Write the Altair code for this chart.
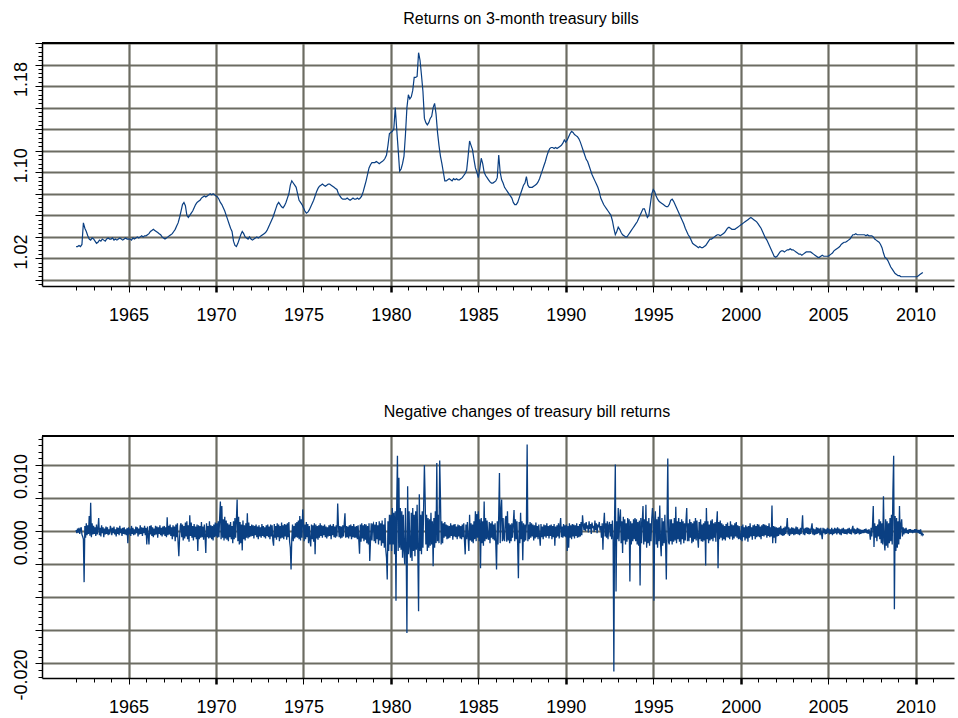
import altair as alt
import pandas as pd

START_YEAR = 1962

# Gross return on 3-month treasury bills, monthly samples,
# stored as thousandths above 1 (31 -> 1.031). One row per year.
rate_rows = [
    [31, 31, 32, 31, 33, 53, 48, 45, 41, 38, 37, 39],          # 1962
    [38, 36, 34, 35, 37, 36, 38, 37, 36, 38, 39, 38],          # 1963
    [38, 39, 37, 38, 37, 38, 39, 38, 37, 38, 39, 38],          # 1964
    [38, 38, 37, 39, 38, 39, 40, 39, 40, 41, 40, 41],          # 1965
    [41, 42, 43, 45, 46, 47, 46, 45, 44, 43, 42, 40],          # 1966
    [39, 38, 39, 40, 41, 42, 43, 45, 47, 50, 53, 58],          # 1967
    [64, 70, 72, 69, 60, 58, 60, 62, 64, 67, 70, 72],          # 1968
    [73, 74, 76, 77, 78, 77, 78, 79, 80, 79, 80, 79],          # 1969
    [78, 77, 75, 72, 70, 67, 64, 60, 56, 52, 48, 45],          # 1970
    [36, 32, 31, 34, 38, 42, 45, 43, 40, 39, 38, 40],          # 1971
    [38, 37, 38, 39, 40, 39, 40, 41, 42, 43, 44, 46],          # 1972
    [49, 52, 55, 58, 62, 66, 70, 72, 70, 68, 67, 69],          # 1973
    [72, 76, 80, 88, 92, 90, 88, 86, 80, 74, 72, 70],          # 1974
    [67, 64, 62, 63, 65, 68, 71, 74, 78, 82, 85, 87],          # 1975
    [88, 89, 88, 87, 88, 89, 89, 88, 87, 86, 85, 84],          # 1976
    [80, 78, 76, 75, 75, 75, 76, 75, 74, 75, 76, 75],          # 1977
    [75, 76, 75, 76, 78, 82, 87, 92, 98, 104, 107, 109],       # 1978
    [109, 109, 110, 109, 108, 109, 110, 111, 113, 116, 125, 136],  # 1979
    [137, 138, 140, 160, 140, 121, 101, 103, 108, 115, 135, 160],  # 1980
    [172, 168, 170, 176, 188, 188, 189, 211, 204, 190, 175, 150],  # 1981
    [146, 144, 146, 150, 152, 160, 164, 154, 137, 125, 115, 108],  # 1982
    [100, 92, 92, 93, 94, 93, 92, 94, 93, 94, 93, 93],         # 1983
    [94, 95, 97, 99, 102, 115, 129, 125, 121, 112, 104, 100],  # 1984
    [95, 103, 113, 108, 100, 97, 95, 93, 91, 90, 90, 91],      # 1985
    [92, 95, 116, 100, 93, 90, 86, 84, 82, 80, 78, 76],        # 1986
    [72, 70, 70, 72, 76, 80, 84, 88, 90, 96, 88, 86],          # 1987
    [86, 86, 87, 88, 89, 91, 94, 98, 102, 106, 110, 115],      # 1988
    [119, 122, 123, 123, 122, 123, 122, 123, 124, 125, 127, 130],  # 1989
    [128, 130, 133, 136, 138, 137, 135, 134, 133, 131, 128, 124],  # 1990
    [120, 116, 112, 110, 106, 102, 98, 95, 92, 89, 86, 82],    # 1991
    [76, 73, 70, 68, 66, 64, 62, 60, 55, 48, 42, 45],          # 1992
    [49, 47, 44, 42, 41, 40, 40, 42, 44, 46, 48, 50],          # 1993
    [52, 54, 57, 60, 63, 66, 66, 62, 58, 60, 70, 80],          # 1994
    [84, 82, 78, 75, 73, 72, 71, 70, 69, 68, 68, 70],          # 1995
    [74, 75, 73, 70, 67, 64, 61, 58, 55, 52, 48, 45],          # 1996
    [42, 40, 37, 34, 33, 32, 31, 30, 31, 30, 30, 31],          # 1997
    [32, 34, 36, 38, 38, 39, 40, 41, 42, 42, 41, 42],          # 1998
    [43, 44, 46, 48, 49, 48, 47, 47, 47, 48, 49, 50],          # 1999
    [51, 52, 53, 54, 55, 56, 57, 58, 57, 56, 55, 54],          # 2000
    [52, 50, 48, 45, 42, 39, 37, 34, 31, 28, 25, 22],          # 2001
    [21, 22, 24, 26, 27, 27, 26, 27, 28, 28, 29, 28],          # 2002
    [28, 27, 26, 25, 24, 24, 23, 24, 25, 26, 26, 26],          # 2003
    [26, 25, 24, 23, 22, 21, 21, 22, 23, 22, 22, 22],          # 2004
    [22, 23, 24, 25, 27, 28, 29, 30, 31, 33, 34, 35],          # 2005
    [35, 36, 37, 38, 40, 42, 42, 43, 42, 42, 42, 42],          # 2006
    [42, 42, 41, 42, 41, 41, 41, 40, 38, 37, 36, 35],          # 2007
    [33, 30, 25, 21, 20, 18, 15, 12, 10, 8, 6, 5],             # 2008
    [4, 4, 3, 3, 3, 3, 3, 3, 3, 3, 3, 3],                      # 2009
    [3, 3, 4, 5, 6, 7],                                        # 2010
]

# Negative changes of the return, 24 samples per year, in units of 1e-4.
change_rows = [
    [2, -3, 4, -2, 5, -4, 3, 6, -5, -8, -12, -77, 8, -10, 12, -6, 9, -4, 23, -7, 43, -9, 12, -5],           # 1962
    [8, -4, 6, -7, 10, -5, 4, 20, -6, 5, -8, 9, -3, 6, -9, 4, -5, 7, -4, 6, -6, 3, -5, 8],                   # 1963
    [4, -6, 5, -3, 7, -5, 3, -8, 6, -4, 5, -6, 8, -3, 4, -7, 5, -4, 6, -5, 3, -6, 5, -18],                   # 1964
    [6, -5, 4, -7, 8, -4, 5, -6, 3, -5, 7, -3, 6, -8, 4, -5, 9, -4, 6, -7, 5, -3, 8, -6],                    # 1965
    [5, -20, 7, -6, -20, 8, -5, 9, -7, 6, -9, 4, -6, 8, -5, 7, -10, 6, -4, 9, -6, 5, -8, 7],                 # 1966
    [-5, 8, -7, 6, -9, 21, -6, 8, -5, 10, -7, 6, -12, 9, -8, 7, -15, 10, -9, 12, -18, -38, -10, 8],          # 1967
    [12, -9, 10, -14, 8, -11, 13, -8, 15, -12, 9, -16, 24, -7, 13, -10, 8, -14, 11, -9, 7, -12, 10, -30],    # 1968
    [9, -12, 8, -10, 14, -9, 7, -13, 10, -8, -33, 12, -9, 8, -11, 15, -10, 9, -12, 8, -14, 10, -9, 13],      # 1969
    [-8, 12, -10, 15, -9, 20, 45, -12, 38, -10, 18, -14, 22, -11, 16, -13, 12, -15, 10, -9, 14, -12, 8, -18],  # 1970
    [15, -12, 20, -10, 18, 48, -15, 22, -20, 14, -18, 10, -29, 16, -12, 9, -14, 12, -10, 27, -11, 13, -9, 8],  # 1971
    [-8, 10, -7, 9, -11, 8, -6, 10, -9, 7, -12, 9, -8, 6, -10, 11, -7, 8, -9, 6, -11, 9, -7, 10],            # 1972
    [-9, 7, -12, 10, -8, 9, -14, -22, 11, -10, 8, -13, 12, -9, 10, -15, 8, -11, 13, -10, 9, -12, 11, -8],    # 1973
    [10, -13, 12, -9, 14, -16, -25, -58, -12, 10, -15, 8, -11, 12, -9, 14, -10, 16, -12, 23, -14, 18, -10, 33],  # 1974
    [12, -15, 10, -12, 14, -9, 11, -18, 8, -14, -23, 10, -12, 9, -16, 12, -35, 10, -11, 8, -13, 9, -10, 12],  # 1975
    [-7, 9, -10, 8, -6, 10, -9, 7, -11, 6, -8, 9, -7, 10, -12, 8, -6, 11, -9, 7, -10, 9, -8, 42],           # 1976
    [10, -9, 8, -11, 7, -10, 9, -8, 12, 27, -10, 8, -9, 7, -11, 9, -8, 10, -12, 8, -9, 11, -10, 7],          # 1977
    [-10, 8, -12, 9, -14, -34, 10, -16, 12, -11, 9, -15, 11, -13, 10, -18, 8, -20, 12, -45, -15, 12, -14, 10],  # 1978
    [12, -15, 10, -18, 14, -12, 9, -20, 15, -14, 12, -22, 16, -18, 10, -25, 20, -28, -40, -73, 15, -30, 25, -20],  # 1979
    [25, -30, 35, -20, 28, -35, 30, -105, 40, 114, -30, 81, -25, 35, -28, 30, -40, 25, -30, -50, 35, -28, -154, 68],  # 1980
    [-35, 30, -25, -40, 28, -45, 35, -30, 25, -38, 30, -28, 40, -35, -121, 56, -30, 25, -35, 30, -25, 40, 100, 50],  # 1981
    [-20, 25, -30, 20, -25, 18, -22, 28, -20, 15, -53, 20, -25, 30, -18, 103, -15, 25, -18, 107, 53, -20, 15, -18],  # 1982
    [12, -10, 14, -8, 10, -12, 9, -11, 8, -10, 12, -7, 9, -13, 10, -8, 11, -9, 7, -12, 10, -8, 9, -11],      # 1983
    [8, -12, 10, -9, 12, -15, -35, 10, -12, 14, -10, -30, 25, -14, 12, -16, 10, -18, 15, -12, 30, -15, 26, -10],  # 1984
    [30, -15, 18, -56, 20, -18, 15, -22, 45, -15, 20, -12, 16, -10, -13, 14, -18, 12, -10, 15, -12, 10, -14, 12],  # 1985
    [-20, -58, 15, -20, 25, 88, -18, 30, 48, -15, 20, -12, -15, 18, 23, -16, 30, -14, 12, -18, 10, -15, 12, -10],  # 1986
    [12, 32, -15, 18, -12, 15, -20, -71, 14, -18, 28, -12, 15, -44, 12, -16, 10, -14, 12, 131, -15, 10, -12, 14],  # 1987
    [-10, 12, -8, 10, -14, 9, -11, 13, -9, 8, -12, 10, -8, -22, 11, -9, 7, -12, 10, -8, 9, -10, 12, -7],     # 1988
    [8, -11, 9, -7, 10, -12, 8, -9, 11, -22, 7, -10, 9, -8, 12, -11, 8, 20, -9, 7, -10, 11, -8, 9],          # 1989
    [-9, 10, -30, 8, -25, 12, -10, 9, -12, 11, -8, 10, -11, 9, -7, 12, -10, 8, -9, 11, -8, 14, -6, 24],      # 1990
    [10, 2, 12, 0, 14, 4, 9, -2, 15, 3, 11, -4, 13, 5, 8, -1, 16, 2, 12, -3, 10, 6, 14, 1],                  # 1991
    [8, -10, 12, -28, 10, 28, -8, 12, -10, 15, -12, 9, 14, -8, 11, -12, 16, -10, -212, 20, 101, -91, 15, -12],  # 1992
    [35, -15, 20, 33, -18, 15, -33, 22, -14, 18, -20, 12, -16, 20, -12, 18, -76, 15, -20, 12, -15, 18, -12, 20],  # 1993
    [-15, 18, -20, 14, -22, 16, -82, 20, -18, 15, 38, -20, 18, -16, 40, -25, 15, -18, 20, -22, 12, -15, 18, 35],  # 1994
    [20, -105, 15, 30, -20, 18, -25, 22, -15, 39, -18, -38, 20, -22, 15, -18, 25, -20, -73, 15, 110, -16, -20, 18],  # 1995
    [-15, 18, -20, 12, -16, 20, -14, 37, -18, 15, -12, 20, -16, 14, -20, 18, -12, 15, -18, 12, -14, 16, 35, -15],  # 1996
    [12, -15, 18, -10, 14, -18, 12, -16, 15, -12, 20, -14, 16, -10, -25, 14, -12, 18, -15, 10, -16, 12, -14, 15],  # 1997
    [-52, 35, -12, 15, -18, 10, -14, 16, -12, 18, -15, 12, -10, 14, -16, 12, 30, -56, 14, -12, 16, -10, 12, -14],  # 1998
    [10, -12, 8, -14, 11, -9, 13, -10, 8, -12, 15, -8, 10, -13, 9, -11, 12, -8, 14, -10, 9, -12, 8, -11],    # 1999
    [-12, 8, -15, 10, -9, 6, -14, 9, -11, 7, -16, 8, -10, 12, -8, 6, -13, 9, -7, 10, -12, 8, -9, 11],        # 2000
    [-8, 10, -9, 7, -12, 9, -7, 11, -8, 10, -6, 9, -10, 8, -7, 12, -9, 6, -8, 39, -18, 8, -10, 7],           # 2001
    [-18, 6, -8, 5, -7, 6, -5, 8, -6, 4, -7, 5, -6, 7, -4, 6, 20, -5, 6, -7, 4, -5, 6, -4],                  # 2002
    [5, -6, 4, -5, 7, -4, 6, -5, 3, -6, 5, -4, 6, 24, -5, 4, -6, 5, -3, 6, -4, 5, -5, 4],                    # 2003
    [-4, 5, 12, -5, 4, -6, 3, -5, 6, -4, 5, -3, 4, -6, 5, -4, -12, 5, -3, 4, -5, 3, -4, 5],                  # 2004
    [-3, 4, -5, 3, -4, 5, -6, 3, -4, 5, -3, 4, -5, 6, -3, 4, -5, 3, -6, 4, -3, 5, -4, 3],                    # 2005
    [-4, 3, -5, 4, -3, 5, -4, 3, -5, 4, 8, -3, 4, -5, 3, -4, 5, -3, 4, -5, 3, -4, 2, -3],                    # 2006
    [2, -3, 3, -2, 4, -3, 2, -4, 3, -2, -13, 5, -8, 10, 38, -24, 12, -10, 8, -15, 10, -8, 18, -12],          # 2007
    [15, -18, 12, -20, 53, -15, -29, 18, -22, 15, -25, 12, -18, 20, -15, 25, -20, 61, 114, -118, 23, -30, 20, -25],  # 2008
    [15, -20, 38, -12, 10, 18, -8, 6, -5, 4, -3, 5, -3, 2, -4, 3, -2, 3, -2, 2, -3, 2, -2, 3],               # 2009
    [-2, 3, -2, 2, -3, 2, -4, 3, -5, -3, -6, -4],                                                             # 2010
]

# Axis furniture
X_DOMAIN = [1960.05, 2012.2]
year_ticks = list(range(1962, 2012))
year_labels = list(range(1965, 2011, 5))
year_thick = list(range(1970, 2011, 10))

TOP_DOMAIN = [0.9944, 1.22]
top_ticks = [round(0.996 + 0.004 * i, 4) for i in range(57)]
top_grid = [round(1.00 + 0.02 * i, 4) for i in range(12)]
top_labels = [1.02, 1.10, 1.18]
top_label_text = ["1.02", "1.10", "1.18"]

BOT_DOMAIN = [-0.0222, 0.0144]
bot_ticks = [round(-0.022 + 0.001 * i, 4) for i in range(37)]
bot_grid = [round(-0.020 + 0.005 * i, 4) for i in range(7)]
bot_labels = [0.010, 0.000, -0.020]
bot_label_text = ["0.010", "0.000", "-0.020"]

LINE_COLOR = "#0a3f82"
GRID_COLOR = "#6c6c62"
FONT = "Liberation Sans"
W = 912
H_TOP = 243
H_BOT = 242


def to_frame(rows, per_year, scale, base):
    recs = []
    for k, row in enumerate(rows):
        for j, v in enumerate(row):
            recs.append({"t": START_YEAR + k + j / per_year, "v": base + v * scale})
    return pd.DataFrame(recs)


rates = to_frame(rate_rows, 12, 0.001, 1.0)
changes = to_frame(change_rows, 24, 0.0001, 0.0)


def member_test(values):
    return " || ".join(f"abs(datum.value - ({v})) < 1e-7" for v in values)


def label_expr(values, texts):
    expr = "''"
    for v, s in zip(reversed(values), reversed(texts)):
        expr = f"abs(datum.value - ({v})) < 1e-7 ? '{s}' : {expr}"
    return expr


x_axis = alt.Axis(
    values=year_ticks,
    title=None,
    labelExpr=f"indexof({year_labels}, datum.value) >= 0 ? toString(datum.value) : ''",
    labelOverlap=False,
    labelFlush=False,
    labelPadding=14,
    tickSize={"condition": {"test": f"indexof({year_labels}, datum.value) >= 0", "value": 6}, "value": 4},
    tickWidth={"condition": {"test": f"indexof({year_thick}, datum.value) >= 0", "value": 2.5}, "value": 1},
    gridOpacity={"condition": {"test": f"indexof({year_labels}, datum.value) >= 0", "value": 1}, "value": 0},
)


def y_axis(ticks, grid, labels, texts, offset):
    return alt.Axis(
        values=ticks,
        title=None,
        labelExpr=label_expr(labels, texts),
        labelAngle=270,
        labelAlign="center",
        labelBaseline="bottom",
        labelPadding=5,
        labelOffset=offset,
        labelOverlap=False,
        labelFlush=False,
        tickSize={"condition": {"test": member_test(grid), "value": 7}, "value": 4},
        gridOpacity={"condition": {"test": member_test(grid), "value": 1}, "value": 0},
    )


def panel(df, ydomain, yaxis, title, height, width_line, title_dx, title_offset):
    line = alt.Chart(df).mark_line(color=LINE_COLOR, strokeWidth=width_line, clip=True).encode(
        x=alt.X("t:Q", scale=alt.Scale(domain=X_DOMAIN, nice=False, zero=False), axis=x_axis),
        y=alt.Y("v:Q", scale=alt.Scale(domain=ydomain, nice=False, zero=False), axis=yaxis),
    )
    top_edge = alt.Chart(df).mark_rule(color="black", strokeWidth=1.5).encode(
        x=alt.value(0), x2=alt.value(W), y=alt.value(0)
    )
    return alt.layer(line, top_edge).properties(
        width=W,
        height=height,
        title=alt.TitleParams(
            text=title, font=FONT, fontSize=16, fontWeight="normal", color="black",
            anchor="middle", frame="group", dx=title_dx, offset=title_offset,
            baseline="alphabetic",
        ),
    )


top = panel(
    rates, TOP_DOMAIN,
    y_axis(top_ticks, top_grid, top_labels, top_label_text, -7),
    "Returns on 3-month treasury bills", H_TOP, 1.2, 23, -3.5,
)
bottom = panel(
    changes, BOT_DOMAIN,
    y_axis(bot_ticks, bot_grid, bot_labels, bot_label_text, 11),
    "Negative changes of treasury bill returns", H_BOT, 1.3, 29, 2,
)

chart = alt.vconcat(top, bottom, spacing=80).properties(
    padding={"left": 11, "top": 10, "right": 0, "bottom": 0},
    background="white",
).configure_view(stroke=None).configure_axis(
    labelFont=FONT,
    labelFontSize=18,
    labelColor="black",
    domainColor="black",
    domainWidth=1.5,
    tickColor="black",
    gridColor=GRID_COLOR,
    gridWidth=2.2,
)

chart.save("out.html", embed_options={"renderer": "svg", "actions": False})
